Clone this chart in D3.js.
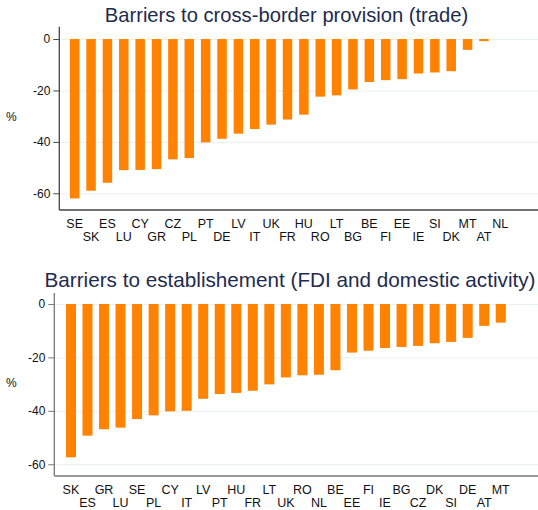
<!DOCTYPE html>
<html><head><meta charset="utf-8">
<script src="https://cdn.jsdelivr.net/npm/d3@7"></script>
<style>
html,body{margin:0;padding:0;background:#fff;}
svg{display:block;font-family:"Liberation Sans",Arial,sans-serif;}
</style></head>
<body>
<svg id="chart" width="538" height="510"></svg>
<script>
// Panel 1: Barriers to cross-border provision (trade)
const tradeCountries = ["SE","SK","ES","LU","CY","GR","CZ","PL","PT","DE","LV","IT","UK","FR","HU","RO","LT","BG","BE","FI","EE","IE","SI","DK","MT","AT","NL"];
const tradeValues = [-62.0,-59.0,-55.9,-51.0,-50.9,-50.6,-46.8,-46.3,-40.2,-38.8,-36.8,-35.0,-33.3,-31.3,-29.4,-22.4,-21.9,-19.6,-16.7,-16.0,-15.6,-13.4,-13.0,-12.5,-4.2,-0.8,0];
// Panel 2: Barriers to establishement (FDI and domestic activity)
const fdiCountries = ["SK","ES","GR","LU","SE","PL","CY","IT","LV","PT","HU","FR","LT","UK","RO","NL","BE","EE","FI","IE","BG","CZ","DK","SI","DE","AT","MT"];
const fdiValues = [-57.4,-49.3,-46.9,-46.3,-43.1,-41.7,-40.2,-40.0,-35.5,-33.7,-33.3,-32.5,-30.1,-27.5,-26.7,-26.5,-24.8,-18.2,-17.5,-16.5,-16.1,-15.7,-14.7,-14.2,-12.7,-8.2,-7.0];
const yTicks = [0,-20,-40,-60];
const titles = ["Barriers to cross-border provision (trade)","Barriers to establishement (FDI and domestic activity)"];

const svg = d3.select("#chart");
const barColor = "#ff8200";

function panel(cfg){
  const g = svg.append("g");
  const y = d3.scaleLinear().domain(cfg.yDomain).range([cfg.bottom, cfg.top]);
  const x = d3.scaleBand().domain(cfg.cats).range(cfg.xRange).paddingInner(cfg.pad).paddingOuter(cfg.pad/2);
  // grid
  const grid = g.append("g").attr("transform",`translate(${cfg.axisX},0)`)
    .call(d3.axisLeft(y).tickValues(yTicks).tickSize(-(538-cfg.axisX)).tickFormat(""));
  grid.select(".domain").remove();
  grid.selectAll(".tick line").attr("stroke","#e9f0f0").attr("stroke-width",1);
  // bars
  g.append("g").selectAll("rect").data(cfg.vals).join("rect")
    .attr("x",(d,i)=>x(cfg.cats[i]))
    .attr("width",x.bandwidth())
    .attr("y",d=>y(Math.max(0,d)))
    .attr("height",d=>Math.abs(y(d)-y(0)))
    .attr("fill",barColor);
  // y axis
  const ya = g.append("g").attr("transform",`translate(${cfg.axisX},0)`)
    .call(d3.axisLeft(y).tickValues(yTicks).tickSize(6).tickPadding(3).tickFormat(d=>String(d)));
  ya.select(".domain").attr("stroke",cfg.axisColor).attr("stroke-width",1.3).attr("d",`M0,${cfg.top}V${cfg.bottom}`);
  ya.selectAll(".tick line").attr("stroke",cfg.axisColor);
  ya.selectAll(".tick text").attr("font-size",12).attr("fill","#111").attr("font-family","Liberation Sans, Arial, sans-serif");
  // x axis
  const xa = g.append("g").attr("transform",`translate(0,${cfg.bottom})`)
    .call(d3.axisBottom(x).tickSize(0).tickPadding(0));
  xa.select(".domain").attr("stroke",cfg.axisColor).attr("stroke-width",1.3).attr("d",`M${cfg.axisX},0H538`);
  xa.selectAll(".tick text").attr("font-size",12.5).attr("fill","#111")
    .attr("font-family","Liberation Sans, Arial, sans-serif")
    .attr("dy",null)
    .attr("y",(d,i)=> i%2===0 ? cfg.row1 : cfg.row2);
  // % label
  g.append("text").attr("x",6).attr("y",cfg.pctY).attr("font-size",12).attr("fill","#111").text("%");
  // title
  g.append("text").attr("x",cfg.titleX).attr("y",cfg.titleY).attr("text-anchor","middle")
    .attr("font-size",cfg.titleSize).attr("fill","#1e2b4d").text(cfg.title);
}

panel({cats:tradeCountries, vals:tradeValues, yDomain:[-66.5,4.8], top:26.7, bottom:210,
  xRange:[66.5,508.5], pad:0.42, axisX:59.3, axisColor:"#444", row1:18, row2:31, pctY:121,
  title:titles[0], titleX:286.5, titleY:22, titleSize:20.2});
panel({cats:fdiCountries, vals:fdiValues, yDomain:[-64.4,4.1], top:293, bottom:476,
  xRange:[62.7,509.0], pad:0.395, axisX:54.3, axisColor:"#777", row1:17.5, row2:31, pctY:387,
  title:titles[1], titleX:290, titleY:287, titleSize:20.7});
</script>
</body></html>
